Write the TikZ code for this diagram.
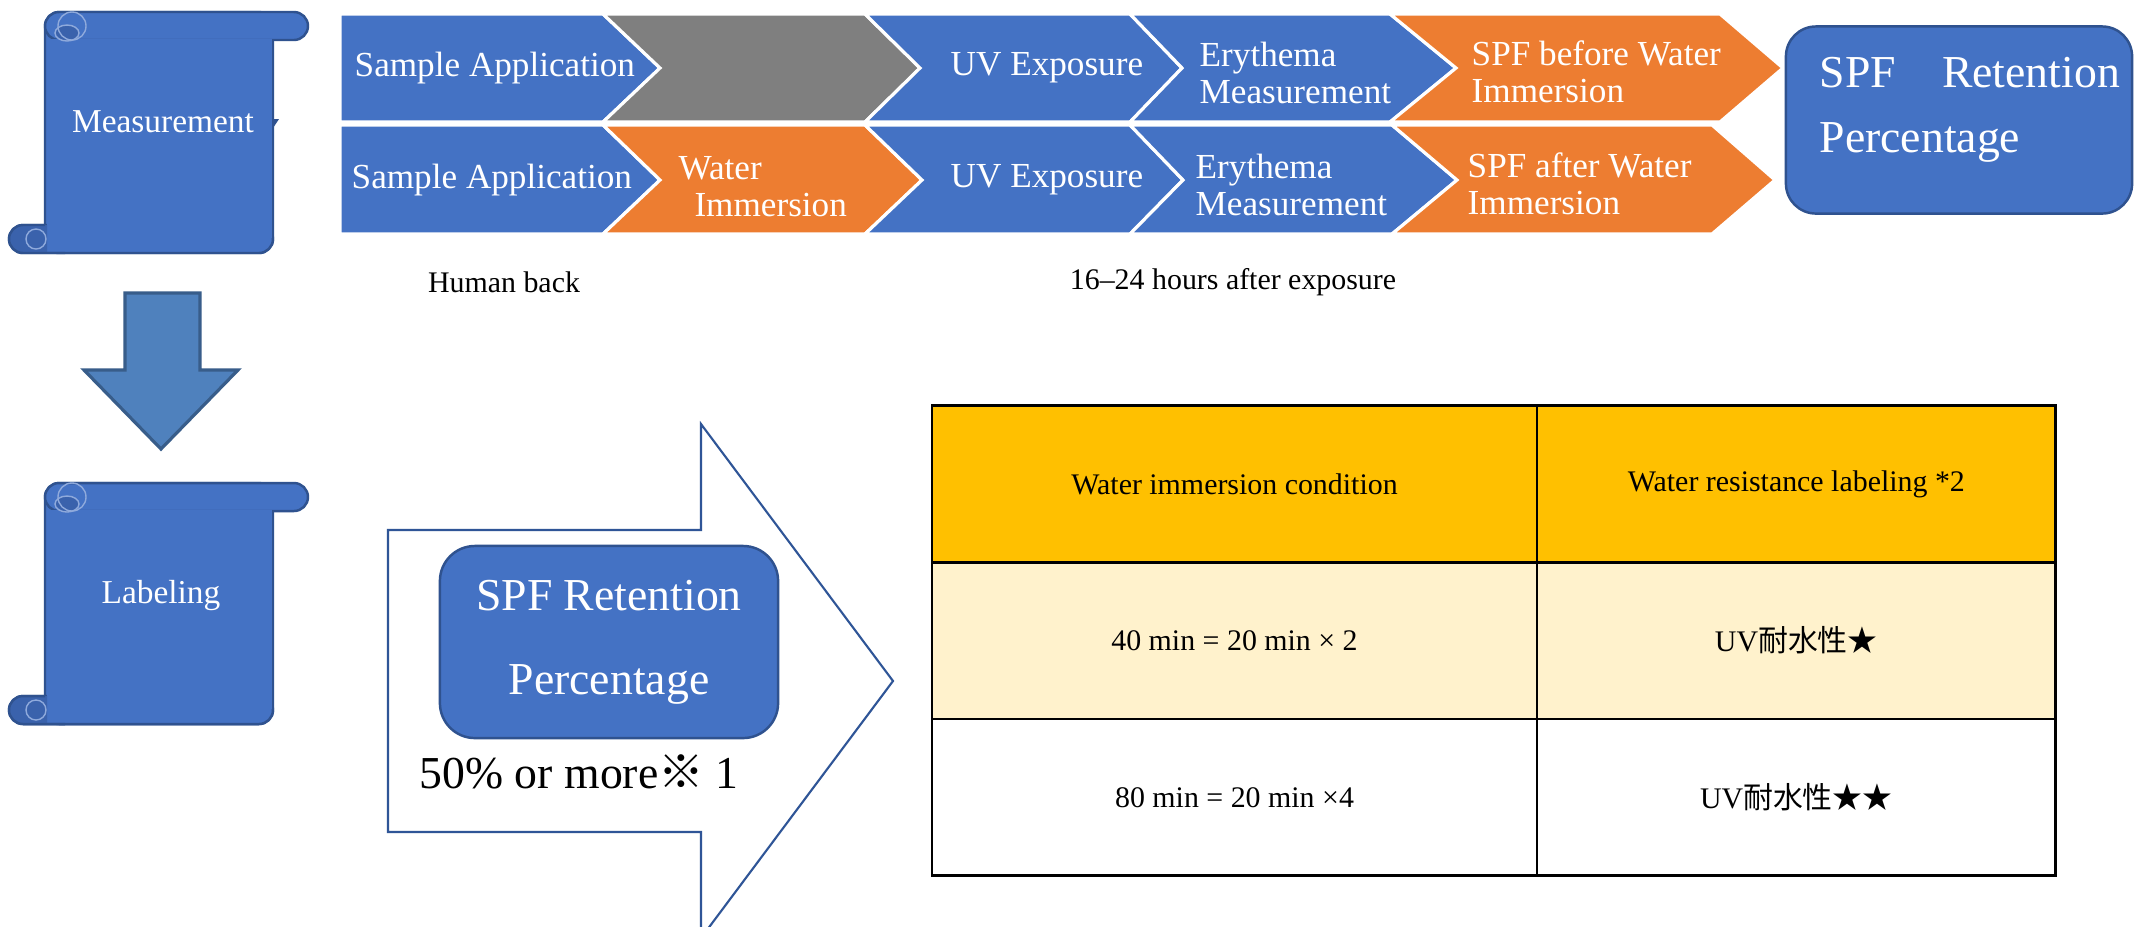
\documentclass[tikz,border=0pt]{standalone}
\usepackage{fontspec}
\setmainfont{Liberation Serif}
\newfontfamily\jpfont{Noto Sans CJK JP}
\usepackage{tikz}
\usetikzlibrary{positioning}
\definecolor{OfficeBlue}{HTML}{4472C4}
\definecolor{OfficeOrange}{HTML}{ED7D31}
\definecolor{OfficeGray}{HTML}{7F7F7F}
\definecolor{ScrollLine}{HTML}{2F528F}
\definecolor{CurlBlue}{HTML}{3A62AC}
\definecolor{CurlLine}{HTML}{8FAADC}
\definecolor{ArrowBlue}{HTML}{4F81BD}
\definecolor{ArrowLine}{HTML}{385D8A}
\definecolor{OutlineBlue}{HTML}{2F5597}
\definecolor{HeadGold}{HTML}{FFC000}
\definecolor{RowCream}{HTML}{FFF2CC}

\begin{document}
\begin{tikzpicture}[
      x=0.01cm, y=-0.01cm,
      every node/.style={align=center, inner sep=0pt},
      chev/.style={fill=#1, draw=white, line width=0.9pt},
      chevtext/.style={anchor=west, align=left, text=white, font=\fontsize{10}{10.5}\selectfont},
      scroll/.style={fill=OfficeBlue, draw=ScrollLine, line width=0.7pt},
      scrolltext/.style={text=white, font=\fontsize{9.5}{11}\selectfont},
      note/.style={font=\fontsize{8.5}{10}\selectfont},
      cell/.style={draw=black, line width=0.7pt, outer sep=0pt, minimum height=1.565cm, font=\fontsize{8.5}{10}\selectfont},
      widecell/.style={cell, minimum width=6.05cm},
      narrowcell/.style={cell, minimum width=5.18cm},
      retbox/.style={fill=OfficeBlue, draw=ScrollLine, line width=0.7pt, rounded corners=0.3cm},
      scrollpic/.pic={
        \filldraw[scroll, rounded corners=0.14cm] (0,0) rectangle (228,241);
        \filldraw[scroll, rounded corners=0.14cm] (0,0) rectangle (263,28);
        \filldraw[scroll, rounded corners=0.14cm] (-36,213) rectangle (228,241);
        \fill[OfficeBlue] (1.5,27) rectangle (227,226);
        % rolled ends
        \fill[CurlBlue, rounded corners=0.14cm] (2,213) -- (-36,213) -- (-36,241) -- (2,241);
        \draw[ScrollLine, line width=0.7pt, rounded corners=0.14cm] (0,213) -- (-36,213) -- (-36,241) -- (20,241);
        \draw[CurlLine, line width=0.4pt] (-9,227) circle (0.1cm);
        \filldraw[fill=CurlBlue, draw=CurlLine, line width=0.4pt] (22,21) ellipse (0.12cm and 0.08cm);
        \draw[CurlLine, line width=0.4pt] (27,14) circle (0.14cm);
      }
    ]
      \useasboundingbox (0,0) rectangle (2134,926);
      \clip (0,0) rectangle (2134,926);
      \fill[white] (0,0) rectangle (2134,926);

      % Scrolls and the arrow between them
      \pic at (45,12) {scrollpic};
      \pic at (45,483) {scrollpic};
      \fill[ScrollLine] (273,119) -- (279,119) -- (273,128) -- cycle;
      \node[scrolltext] (measure) at (163,122) {Measurement};
      \node[scrolltext] (labeling) at (161,595) {Labeling};
      \filldraw[fill=ArrowBlue, draw=ArrowLine, line width=0.9pt] (125,293) -- (200,293) -- (200,370) -- (238,370) -- (161,449) -- (84,370) -- (125,370) -- cycle;

      % Process chevrons, first row
      \filldraw[chev=OfficeBlue] (340,14) -- (603,14) -- (660,68) -- (603,122) -- (340,122) -- cycle;
      \filldraw[chev=OfficeGray] (603,14) -- (865,14) -- (920,68) -- (865,122) -- (603,122) -- (660,68) -- cycle;
      \filldraw[chev=OfficeBlue] (865,14) -- (1130,14) -- (1182,68) -- (1130,122) -- (865,122) -- (920,68) -- cycle;
      \filldraw[chev=OfficeBlue] (1130,14) -- (1390,14) -- (1456,68) -- (1390,122) -- (1130,122) -- (1182,68) -- cycle;
      \filldraw[chev=OfficeOrange] (1390,14) -- (1720,14) -- (1783,68) -- (1720,122) -- (1390,122) -- (1456,68) -- cycle;
      % Process chevrons, second row
      \filldraw[chev=OfficeBlue] (340,125) -- (603,125) -- (660,180) -- (603,234) -- (340,234) -- cycle;
      \filldraw[chev=OfficeOrange] (603,125) -- (865,125) -- (922,180) -- (865,234) -- (603,234) -- (660,180) -- cycle;
      \filldraw[chev=OfficeBlue] (865,125) -- (1130,125) -- (1183,180) -- (1130,234) -- (865,234) -- (922,180) -- cycle;
      \filldraw[chev=OfficeBlue] (1130,125) -- (1392,125) -- (1457,180) -- (1392,234) -- (1130,234) -- (1183,180) -- cycle;
      \filldraw[chev=OfficeOrange] (1392,125) -- (1712,125) -- (1775,180) -- (1712,234) -- (1392,234) -- (1457,180) -- cycle;

      \node[chevtext] (apply1) at (354,68) {Sample Application};
      \node[chevtext] (uv1) at (950,68) {UV Exposure};
      \node[chevtext] (erythema1) at (1199,73) {Erythema\\Measurement};
      \node[chevtext] (spfbefore) at (1471,72) {SPF before Water\\Immersion};
      \node[chevtext] (apply2) at (351,180) {Sample Application};
      \node[chevtext] (immersion) at (678,187) {Water\\\hspace*{4.5pt}Immersion};
      \node[chevtext] (uv2) at (950,180) {UV Exposure};
      \node[chevtext] (erythema2) at (1195,185) {Erythema\\Measurement};
      \node[chevtext] (spfafter) at (1467,184) {SPF after Water\\Immersion};

      % Labels
      \node[note] (humanback) at (504,282) {Human back};
      \node[note] (hours) at (1233,282) {16--24 hours after exposure};

      % Result box
      \node[retbox, minimum width=3.46cm, minimum height=1.87cm] (retboxtop) at (1959,120) {};
      \node[anchor=west, text width=3cm, align=left, text=white, font=\fontsize{13}{18.5}\selectfont] (rettop) at (1819,110) {SPF\hfill Retention\\Percentage};

      % Criterion arrow
      \filldraw[fill=white, draw=OutlineBlue, line width=0.6pt] (388,530) -- (701,530) -- (701,424) -- (893,681) -- (701,938) -- (701,832) -- (388,832) -- cycle;
      \node[retbox, rounded corners=0.35cm, minimum width=3.38cm, minimum height=1.92cm, text=white, font=\fontsize{13}{24}\selectfont] (retinner) at (609,642) {SPF Retention\\Percentage};
      \node[anchor=west, font=\fontsize{13}{15}\selectfont] (threshold) at (419,772) {50\% or more{\jpfont ※} 1};

      % Table
      \node[widecell, fill=HeadGold] (head1) at (1234.5,484) {Water immersion condition};
      \node[narrowcell, fill=HeadGold, right=0pt of head1] (head2) {Water resistance labeling *2};
      \node[widecell, fill=RowCream, below=0pt of head1] (cond1) {40 min = 20 min × 2};
      \node[narrowcell, fill=RowCream, below=0pt of head2] (mark1) {UV{\jpfont 耐水性★}};
      \node[widecell, fill=white, below=0pt of cond1] (cond2) {80 min = 20 min ×4};
      \node[narrowcell, fill=white, below=0pt of mark1] (mark2) {UV{\jpfont 耐水性★★}};
    \end{tikzpicture}
\end{document}
